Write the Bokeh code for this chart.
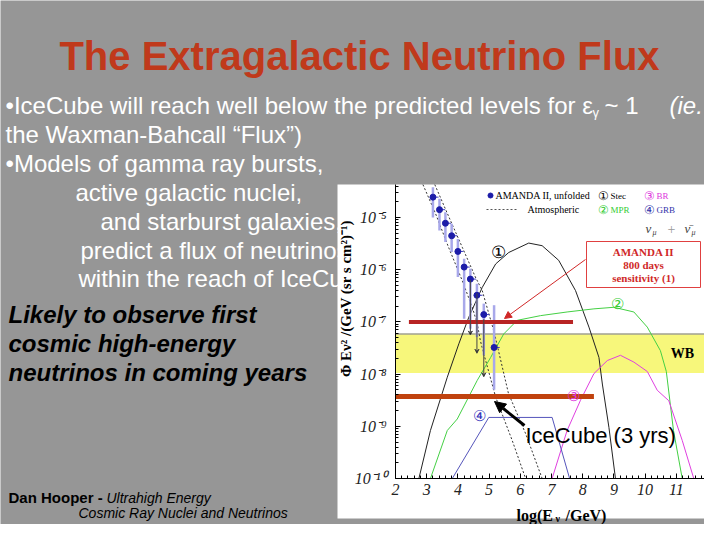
import math
from bokeh.plotting import figure
from bokeh.models import Range1d, FixedTicker, ColumnDataSource, Arrow, NormalHead, VeeHead
from bokeh.core.properties import value
from bokeh.embed import file_html
from bokeh.resources import INLINE

GRAY = "#969696"
SANS = "Liberation Sans"
SERIF = "Liberation Serif"

# ---------------- chart data (x = log10(E/GeV), y = log10 of flux) ----------------
x_ticks = [2, 3, 4, 5, 6, 7, 8, 9, 10, 11]
y_tick_exp = [-10, -9, -8, -7, -6, -5]
y_tick_labels = ["10⁻¹⁰", "10⁻⁹", "10⁻⁸", "10⁻⁷", "10⁻⁶", "10⁻⁵"]

amanda_x = [3.20, 3.41, 3.60, 3.80, 4.00, 4.20, 4.40, 4.61, 4.83, 5.16]
amanda_logy = [-4.61, -4.85, -5.11, -5.35, -5.65, -5.95, -6.18, -6.49, -6.86, -7.49]
amanda_err_hi = [-4.42, -4.64, -4.90, -5.12, -5.41, -5.79, -5.98, -6.27, -6.65, -6.68]
amanda_err_lo = [-5.00, -5.25, -5.47, -5.66, -6.14, -6.94, -7.13, -7.29, -7.64, -8.30]

limit_x = [4.40, 4.61, 4.83]
limit_top = [-6.20, -6.45, -6.95]
limit_bot = [-7.25, -7.60, -8.05]

atm_low_x = [2.88, 3.28, 3.70, 4.14, 4.46, 4.62, 4.72, 4.83, 5.21, 5.74, 6.17]
atm_low_logy = [-4.37, -4.92, -5.57, -6.21, -6.72, -7.03, -7.36, -7.61, -8.44, -9.27, -10.0]
atm_high_x = [3.26, 3.66, 4.14, 4.56, 4.78, 4.99, 5.15, 5.30, 5.62, 6.17, 6.70]
atm_high_logy = [-4.37, -4.92, -5.57, -6.14, -6.40, -6.84, -7.17, -7.55, -8.37, -9.14, -10.0]

stecker_x = [2.75, 3.12, 3.66, 4.03, 4.35, 4.78, 5.21, 5.63, 6.27, 6.70, 7.23, 7.77, 8.20, 8.52, 8.63, 8.84, 9.05]
stecker_logy = [-10.0, -9.08, -8.06, -7.42, -6.91, -6.34, -5.89, -5.67, -5.49, -5.54, -5.82, -6.40, -7.10, -7.68, -8.19, -9.02, -10.0]

mpr_x = [3.12, 3.66, 3.98, 4.62, 5.05, 5.47, 5.90, 6.65, 7.50, 8.36, 9.00, 9.64, 10.07, 10.49, 10.68, 10.91, 11.19]
mpr_logy = [-10.0, -9.08, -8.86, -8.12, -7.68, -7.23, -6.97, -6.88, -6.81, -6.75, -6.72, -6.81, -7.10, -7.55, -7.95, -9.08, -10.0]

br_x = [7.02, 7.50, 7.93, 8.36, 8.79, 9.21, 9.64, 10.07, 10.39, 10.76, 11.19, 11.56]
br_logy = [-10.0, -9.08, -8.50, -7.99, -7.74, -7.64, -7.77, -7.95, -8.31, -8.51, -9.27, -10.0]

grb_x = [3.82, 4.99, 7.02, 7.58]
grb_logy = [-10.0, -8.83, -8.83, -10.0]

wb_x = [2.0, 12.2]
wb_logy = [-7.98, -7.23]

amanda_sens_x = [2.43, 7.69]
amanda_sens_logy = [-7.00, -7.00]
icecube_x = [2.00, 8.36]
icecube_logy = [-8.43, -8.43]

# ---------------- slide text ----------------
title_text = "The Extragalactic Neutrino Flux"
bullet_lines = ["•IceCube will reach well below the predicted levels for ε",
                "the Waxman-Bahcall “Flux”)",
                "•Models of gamma ray bursts,",
                "active galactic nuclei,",
                "and starburst galaxies,",
                "predict a flux of neutrinos",
                "within the reach of IceCube"]
likely_lines = ["Likely to observe first", "cosmic high-energy", "neutrinos in coming years"]
footer_name = "Dan Hooper -"
footer_talk = ["Ultrahigh Energy", "Cosmic Ray Nuclei and Neutrinos"]


# slide pixel position -> data coordinates of the chart's scales
def cx(X):
    return 2 + (X - 395) / 31.2


def cy(Y):
    return 10 ** (-10 + (478 - Y) / 52.2)


def lin(v):
    return [10 ** a for a in v]


p = figure(width=704, height=524, x_range=Range1d(cx(0), cx(704)),
           y_range=Range1d(cy(524), cy(0)), y_axis_type="log",
           toolbar_location=None, output_backend="svg", min_border=0,
           background_fill_color=GRAY, border_fill_color=GRAY, outline_line_color=None)
p.grid.visible = False


def add_text(X, Y, s, size, color="black", font=SERIF, style="normal",
             align="left", baseline="middle", angle=0.0):
    p.text(x=[cx(X)], y=[cy(Y)], text=[s], text_font=value(font), text_font_size=value(size),
           text_font_style=style, text_color=color, text_align=align,
           text_baseline=baseline, angle=angle)


# ---- slide texts (the chart picture is laid over them) ----
add_text(359, 55, title_text, "40px", color="#c0391b", font=SANS, style="bold",
         align="center", baseline="alphabetic")
W = "white"
add_text(5, 105, bullet_lines[0], "24px", color=W, font=SANS, baseline="alphabetic")
add_text(592, 112, "γ", "13px", color=W, font=SANS, baseline="alphabetic")
add_text(604, 105, "~ 1", "24px", color=W, font=SANS, baseline="alphabetic")
add_text(669, 105, "(ie.", "24px", color=W, font=SANS, style="italic", baseline="alphabetic")
add_text(5, 134, bullet_lines[1], "24px", color=W, font=SANS, baseline="alphabetic")
add_text(5, 163, bullet_lines[2], "24px", color=W, font=SANS, baseline="alphabetic")
for s, X, Y in zip(bullet_lines[3:], [75, 100, 80, 78], [192, 221, 250, 278]):
    add_text(X, Y, s, "24px", color=W, font=SANS, baseline="alphabetic")
for s, Y in zip(likely_lines, [314, 343, 372]):
    add_text(8, Y, s, "24px", font=SANS, style="bold italic", baseline="alphabetic")
add_text(8, 497, footer_name, "15px", font=SANS, style="bold", baseline="alphabetic")
add_text(106, 497, footer_talk[0], "14px", font=SANS, style="italic", baseline="alphabetic")
add_text(78, 512, footer_talk[1], "14px", font=SANS, style="italic", baseline="alphabetic")

# white chart picture
p.quad(left=[cx(337)], right=[cx(704)], bottom=[cy(518)], top=[cy(184)],
       fill_color="white", line_color=None)

# ---- axes ----
y_top = cy(184)
xa = p.xaxis[0]
xa.fixed_location = 1e-10
xa.bounds = (2, 12)
xa.ticker = FixedTicker(ticks=x_ticks, minor_ticks=[2 + i * 0.2 for i in range(51)])
ya = p.yaxis[0]
ya.fixed_location = 2
ya.bounds = (1e-10, y_top)
ya.ticker = FixedTicker(ticks=[10.0 ** e for e in y_tick_exp],
                        minor_ticks=[m * 10.0 ** k for k in range(-10, -4) for m in range(2, 10)
                                     if m * 10.0 ** k < y_top])
ya.major_label_overrides = {10.0 ** e: lab for e, lab in zip(y_tick_exp, y_tick_labels)}
for ax in (xa, ya):
    ax.axis_line_color = "black"
    ax.major_tick_in = 5
    ax.major_tick_out = 0
    ax.minor_tick_in = 3
    ax.minor_tick_out = 0
    ax.major_label_text_font = SERIF
    ax.major_label_text_font_style = "italic"
    ax.major_label_text_font_size = "16px"
    ax.major_label_text_color = "#222222"
xa.major_label_standoff = 5
ya.major_label_standoff = 9

# WB band
p.quad(left=[wb_x[0]], right=[wb_x[1]], bottom=[10 ** wb_logy[0]], top=[10 ** wb_logy[1]],
       fill_color="#f7f77b", line_color=None)
p.line(x=wb_x, y=[10 ** wb_logy[1]] * 2, line_color="#a0a090", line_width=1.5)

# atmospheric band
p.line(atm_low_x, lin(atm_low_logy), line_color="#333333", line_dash="2 2", line_width=1)
p.line(atm_high_x, lin(atm_high_logy), line_color="#333333", line_dash="2 2", line_width=1)

# model curves
p.line(stecker_x, lin(stecker_logy), line_color="#222222", line_width=1)
p.line(mpr_x, lin(mpr_logy), line_color="#44d044", line_width=1)
p.line(br_x, lin(br_logy), line_color="#e040e0", line_width=1)
p.line(grb_x, lin(grb_logy), line_color="#5555bb", line_width=1)

# AMANDA unfolded points
p.segment(x0=amanda_x, y0=lin(amanda_err_lo), x1=amanda_x, y1=lin(amanda_err_hi),
          line_color="#a8a8ea", line_width=2.5)
p.segment(x0=[v - 0.08 for v in amanda_x], y0=lin(amanda_logy),
          x1=[v + 0.18 for v in amanda_x], y1=lin(amanda_logy),
          line_color="#4040c0", line_width=1)
lim_src = ColumnDataSource(dict(x=limit_x, y0=lin(limit_top), y1=lin(limit_bot)))
p.add_layout(Arrow(end=VeeHead(size=4, line_color="#444444", line_width=1),
                   x_start="x", y_start="y0", x_end="x", y_end="y1", source=lim_src,
                   line_color="#444444", line_width=1))
p.scatter(amanda_x, lin(amanda_logy), size=6, color="#1c1ca8")

# sensitivity lines
p.line(amanda_sens_x, lin(amanda_sens_logy), line_color="#b82424", line_width=4)
p.line(icecube_x, lin(icecube_logy), line_color="#c0420e", line_width=5)

# legend (manual, like the original)
p.scatter([cx(490)], [cy(195)], size=5, color="#1c1ca8")
add_text(495, 195, "AMANDA II, unfolded", "10px")
p.line([cx(486), cx(517)], [cy(209), cy(209)], line_color="#555555", line_dash="2 2", line_width=1)
add_text(527, 209, "Atmospheric", "10px")
add_text(597, 195, "①", "12px")
add_text(610, 195, "Stec", "9px")
add_text(597, 209, "②", "12px", color="#33cc33")
add_text(610, 209, "MPR", "9px", color="#33cc33")
add_text(643, 195, "③", "12px", color="#dd33dd")
add_text(656, 195, "BR", "9px", color="#dd33dd")
add_text(643, 209, "④", "12px", color="#3333aa")
add_text(656, 209, "GRB", "9px", color="#3333aa")
add_text(645, 228, "ν", "13px", color="#444444", style="italic")
add_text(652, 232, "μ", "8px", color="#444444", style="italic")
add_text(671, 228, "+", "14px", color="#999999", align="center")
add_text(684, 228, "ν̄", "13px", color="#444444", style="italic")
add_text(691, 232, "μ", "8px", color="#444444", style="italic")

# AMANDA II sensitivity box + arrow
p.quad(left=[cx(586)], right=[cx(700)], bottom=[cy(287)], top=[cy(241)],
       fill_color="white", line_color="#e04040", line_width=1)
for s, Y in zip(["AMANDA II", "800 days", "sensitivity (1)"], [251, 264, 277]):
    add_text(643, Y, s, "11px", color="#d02828", style="bold", align="center")
p.add_layout(Arrow(end=NormalHead(size=7, fill_color="#d02828", line_color="#d02828"),
                   x_start=cx(585), y_start=cy(259), x_end=cx(504), y_end=cy(318),
                   line_color="#d02828", line_width=1))

# curve labels
add_text(498, 252, "①", "17px", align="center")
add_text(617, 303, "②", "15px", color="#33cc33", align="center")
add_text(573, 395, "③", "15px", color="#dd33dd", align="center")
add_text(479, 415, "④", "15px", color="#3333bb", align="center")
add_text(682, 353, "WB", "14px", style="bold", align="center")

# IceCube label and arrow
add_text(525, 435, "IceCube (3 yrs)", "22px", font=SANS, baseline="alphabetic")
p.add_layout(Arrow(end=NormalHead(size=11, fill_color="black", line_color="black"),
                   x_start=cx(524), y_start=cy(425), x_end=cx(494), y_end=cy(401),
                   line_color="black", line_width=3))

# axis titles
add_text(345, 298, "Φ Eν² /(GeV (sr s cm²)⁻¹)", "15px", style="bold",
         align="center", angle=math.pi / 2)
add_text(516, 515, "log(E", "16px", style="bold", baseline="alphabetic")
add_text(555, 518, "ν", "10px", style="bold", baseline="alphabetic")
add_text(565, 515, "/GeV)", "16px", style="bold", baseline="alphabetic")

open("out.html", "w").write(file_html(p, INLINE))
